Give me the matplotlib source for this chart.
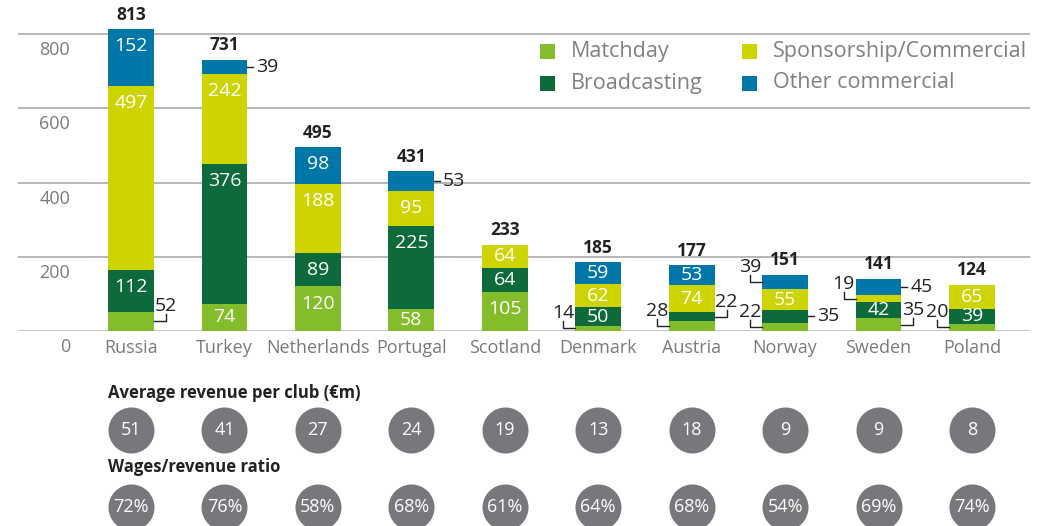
import numpy as np
import matplotlib
matplotlib.use("Agg")
import matplotlib.pyplot as plt
from matplotlib.transforms import offset_copy

plt.rcParams['font.family'] = ['Open Sans', 'DejaVu Sans']

countries = ['Russia', 'Turkey', 'Netherlands', 'Portugal', 'Scotland',
             'Denmark', 'Austria', 'Norway', 'Sweden', 'Poland']
matchday = [52, 74, 120, 58, 105, 14, 28, 22, 35, 20]
broadcasting = [112, 376, 89, 225, 64, 50, 22, 35, 42, 39]
sponsorship = [497, 242, 188, 95, 64, 62, 74, 55, 19, 65]
other = [152, 39, 98, 53, 0, 59, 53, 39, 45, 0]
avg_revenue = [51, 41, 27, 24, 19, 13, 18, 9, 9, 8]
wage_ratio = [72, 76, 58, 68, 61, 64, 68, 54, 69, 74]

series_names = ['Matchday', 'Broadcasting', 'Sponsorship/Commercial', 'Other commercial']
colors = ['#83bd2b', '#0d6a3a', '#cdd400', '#0077a8']

# values shown next to the bar: (country, segment, side, style)
outside = [(0, 0, 'R', 'bracket'), (1, 3, 'R', 'dash'), (3, 3, 'R', 'dash'),
           (5, 0, 'L', 'bracket'), (6, 0, 'L', 'bracket'), (6, 1, 'R', 'bracket'),
           (7, 3, 'L', 'bracket'), (7, 0, 'L', 'bracket'), (7, 1, 'R', 'dash'),
           (8, 2, 'L', 'bracket'), (8, 3, 'R', 'dash'), (8, 0, 'R', 'bracket'),
           (9, 0, 'L', 'bracket')]

W, H = 1049, 526
fig = plt.figure(figsize=(W / 100, H / 100), dpi=100)
PX = 93.44       # pixels per category
VPX = 0.371      # pixels per EUR m
x0_px, x1_px, base_px = 18, 1030, 331
ax = fig.add_axes([x0_px / W, (H - base_px) / H, (x1_px - x0_px) / W, base_px / H])
ax.set_xlim((x0_px - 131) / PX, (x1_px - 131) / PX)
ax.set_ylim(0, base_px / VPX)
ax.axis('off')

data = np.array([matchday, broadcasting, sponsorship, other])
x = np.arange(len(countries))
bw = 0.49
dx = 1 / PX
dy = 1 / VPX

for v in [200, 400, 600, 800]:
    ax.axhline(v, color='#a3a3a3', lw=1.1, zorder=0)
ax.axhline(0, color='#c4c4c4', lw=2.2, zorder=0)

for v in [0, 200, 400, 600, 800]:
    ax.text((70 - 131) / PX, v - 16 * dy, str(v), ha='right', va='center',
            fontsize=13, color='#7a7a7a', clip_on=False)

bottoms = np.zeros(len(countries))
for k in range(4):
    ax.bar(x, data[k], bw, bottom=bottoms, color=colors[k], zorder=2, label=series_names[k])
    bottoms += data[k]

outside_set = {(c, s) for c, s, _, _ in outside}
for i in range(len(countries)):
    b = 0
    for k in range(4):
        v = data[k, i]
        top = b + v
        if v > 0 and (i, k) not in outside_set:
            yc = max(top - 46, (b + top) / 2)
            ax.text(x[i], yc, str(v), ha='center', va='center', color='white',
                    fontsize=14, zorder=3)
        b = top
    ax.text(x[i], bottoms[i] + 14.5 * dy, str(int(bottoms[i])), ha='center', va='center',
            fontsize=12.5, fontweight='bold', color='#222222')
    ax.text(x[i], -17 * dy, countries[i], ha='center', va='center', fontsize=13,
            color='#7a7a7a', clip_on=False)

cum = np.vstack([np.zeros(len(countries)), np.cumsum(data, axis=0)])
for c, s, side, style in outside:
    ym = (cum[s, c] + cum[s + 1, c]) / 2
    sign = 1 if side == 'R' else -1
    edge = x[c] + sign * bw / 2
    val = str(data[s, c])
    if style == 'dash':
        ax.plot([edge, edge + sign * 6 * dx], [ym, ym], color='#222222', lw=1, zorder=3)
        ax.text(edge + sign * 9 * dx, ym, val, ha='left' if sign > 0 else 'right',
                va='center', fontsize=14, color='#222222')
    else:
        xe = edge + sign * 12 * dx
        ax.plot([edge, xe, xe], [ym, ym, ym + 7 * dy], color='#222222', lw=1, zorder=3)
        ax.text(xe, ym + 10 * dy, val, ha='center', va='baseline', fontsize=14,
                color='#222222')

# legend
leg_pos = [(547, 51), (547, 83), (749, 51), (749, 83)]
for (lx, ly), name, col in zip(leg_pos, series_names, colors):
    ax.scatter([(lx - 131) / PX], [(base_px - ly) * dy], marker='s', s=(15 * 0.72) ** 2,
               color=col, zorder=4, linewidths=0)
    ax.text((lx + 24 - 131) / PX, (base_px - ly) * dy, name, ha='left', va='center',
            fontsize=15.5, color='#808080')

# bottom panel with circles
ax2 = fig.add_axes([x0_px / W, 0, (x1_px - x0_px) / W, (H - base_px) / H])
ax2.set_xlim(ax.get_xlim())
ax2.set_ylim(H, base_px)
ax2.axis('off')

ax2.text(-bw / 2, 393, 'Average revenue per club (€m)', ha='left', va='center',
         fontsize=12, fontweight='bold', color='#222222')
ax2.text(-bw / 2, 467, 'Wages/revenue ratio', ha='left', va='center',
         fontsize=12, fontweight='bold', color='#222222')
circ = (46 * 0.72) ** 2
ax2.scatter(x, [430] * len(x), s=circ, color='#77787b', linewidths=0, clip_on=False)
ax2.scatter(x, [506.5] * len(x), s=circ, color='#77787b', linewidths=0, clip_on=False)
for i in range(len(x)):
    ax2.text(x[i], 430, str(avg_revenue[i]), ha='center', va='center', color='white',
             fontsize=13)
    ax2.text(x[i], 506.5, f'{wage_ratio[i]}%', ha='center', va='center', color='white',
             fontsize=13)

fig.savefig('out.png', dpi=100)
